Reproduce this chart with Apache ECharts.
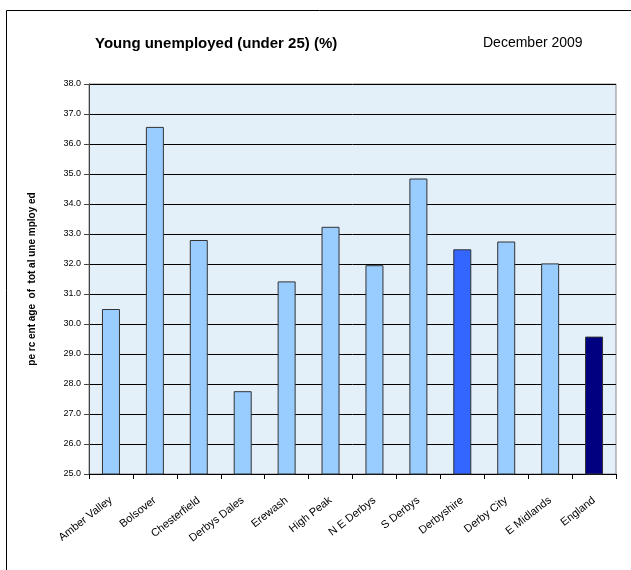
<!DOCTYPE html>
<html>
<head>
<meta charset="utf-8">
<script src="https://cdn.jsdelivr.net/npm/echarts@6/dist/echarts.min.js"></script>
<style>
html,body{margin:0;padding:0;background:#fff;}
#chart{width:631px;height:570px;}
</style>
</head>
<body>
<div id="chart"></div>
<script>
var categories = ["Amber Valley", "Bolsover", "Chesterfield", "Derbys Dales", "Erewash", "High Peak", "N E Derbys", "S Derbys", "Derbyshire", "Derby City", "E Midlands", "England"];
var values = [30.5, 36.57, 32.8, 27.76, 31.42, 33.24, 31.96, 34.85, 32.49, 32.75, 32.02, 29.58];
var yTicks = { min: 25, max: 38, step: 1 };
var titleText = "Young unemployed (under 25) (%)";
var dateText = "December 2009";
var yName = "pe rc ent age  of  tot al une mploy ed";

var specialColors = { "Derbyshire": "#3366ff", "England": "#000080" };
var font = "Arial, 'Liberation Sans', sans-serif";

var chart = echarts.init(document.getElementById('chart'));
chart.setOption({
  animation: false,
  backgroundColor: '#fff',
  graphic: [
    { type: 'rect', shape: { x: 6.5, y: 10.5, width: 700, height: 700 }, style: { fill: 'none', stroke: '#000', lineWidth: 1 }, silent: true, z: 0 },
    { type: 'text', left: 95, top: 36, style: { text: titleText, font: 'bold 15px ' + font, fill: '#000' } },
    { type: 'text', left: 483, top: 36, style: { text: dateText, font: '14px ' + font, fill: '#000' } }
  ],
  grid: { left: 89, right: 15, top: 84, bottom: 96, show: true, backgroundColor: '#e3eff9', borderColor: '#888', borderWidth: 1 },
  xAxis: {
    type: 'category',
    data: categories,
    axisLine: { lineStyle: { color: '#000', width: 1 } },
    axisTick: { show: true, length: 5, lineStyle: { color: '#000' } },
    axisLabel: { interval: 0, rotate: 38, margin: 25, fontSize: 11, color: '#000', fontFamily: font }
  },
  yAxis: {
    type: 'value',
    min: yTicks.min, max: yTicks.max, interval: yTicks.step,
    name: yName,
    nameLocation: 'middle',
    nameGap: 52,
    nameRotate: 90,
    nameTextStyle: { fontSize: 10, fontWeight: 'bold', color: '#000', fontFamily: font },
    axisLine: { show: true, lineStyle: { color: '#444', width: 1 } },
    axisTick: { show: true, length: 5, lineStyle: { color: '#444' } },
    axisLabel: { fontSize: 9, color: '#000', margin: 8, fontFamily: font, formatter: function (v) { return v.toFixed(1); } },
    splitLine: { show: true, lineStyle: { color: '#000', width: 1 } }
  },
  series: [{
    type: 'bar',
    barWidth: 18,
    data: values.map(function (v, i) {
      return { value: v, itemStyle: { color: specialColors[categories[i]] || '#99ccff', borderColor: '#333', borderWidth: 1 } };
    })
  }]
});
</script>
</body>
</html>
